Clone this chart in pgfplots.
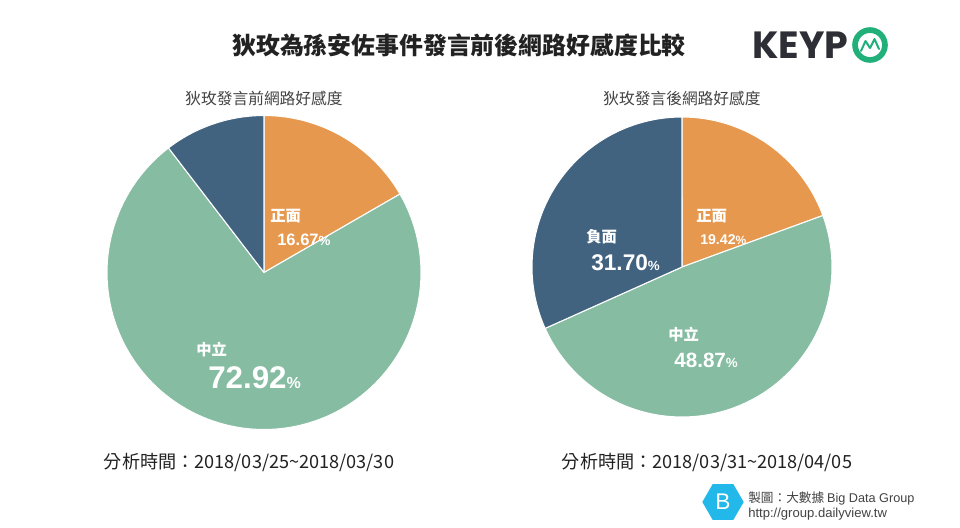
\documentclass[border=0pt]{standalone}
\usepackage{fontspec}
\setmainfont{Noto Sans CJK TC}
\newfontfamily\numf{Liberation Sans}
\newfontfamily\logof{Poppins}
\usepackage{graphicx}
\usepackage{pgfplots}
\usepackage{pgfplotstable}
\pgfplotsset{compat=1.18}
\usetikzlibrary{shapes.geometric}
\definecolor{pOrange}{HTML}{E6984E}
\definecolor{pGreen}{HTML}{86BCA2}
\definecolor{pBlue}{HTML}{41637F}
\definecolor{kGreen}{HTML}{22B07A}
\definecolor{kDark}{HTML}{2E2E36}
\definecolor{bCyan}{HTML}{22B8EA}
\definecolor{txt}{HTML}{222222}

% share of each sentiment (%), before and after
\pgfplotstableread{
cat pct
pos 16.67
neu 72.92
neg 10.41
}\beforedata
\pgfplotstableread{
cat pct
pos 19.42
neu 48.87
neg 31.70
}\afterdata

\pgfplotstablegetelem{0}{pct}\of\beforedata \let\Bp\pgfplotsretval
\pgfplotstablegetelem{1}{pct}\of\beforedata \let\Bu\pgfplotsretval
\pgfplotstablegetelem{2}{pct}\of\beforedata \let\Bn\pgfplotsretval
\pgfplotstablegetelem{0}{pct}\of\afterdata \let\Ap\pgfplotsretval
\pgfplotstablegetelem{1}{pct}\of\afterdata \let\Au\pgfplotsretval
\pgfplotstablegetelem{2}{pct}\of\afterdata \let\An\pgfplotsretval
\pgfmathsetmacro{\BaA}{90-3.6*\Bp}
\pgfmathsetmacro{\BaB}{\BaA-3.6*\Bu}
\pgfmathsetmacro{\BaC}{\BaB-3.6*\Bn}
\pgfmathsetmacro{\AaA}{90-3.6*\Ap}
\pgfmathsetmacro{\AaB}{\AaA-3.6*\Au}
\pgfmathsetmacro{\AaC}{\AaB-3.6*\An}

\newcommand{\slice}[6]{%
  \addplot[fill=#6, draw=white, line width=0.8pt, line join=round,
    domain=#4:#5, samples=120, variable=\t]
    ({#1+#3*cos(\t)},{#2-#3*sin(\t)}) -- (axis cs:#1,#2) -- cycle;}

\begin{document}%
\begin{tikzpicture}
\begin{axis}[x=0.75pt, y=0.75pt, xmin=0, xmax=960, ymin=0, ymax=528,
  y dir=reverse, hide axis, clip=false, anchor=origin, at={(0,0)}]
\path[fill=white] (axis cs:0,0) rectangle (axis cs:960,528);
% left pie
\slice{264}{272.5}{157}{\BaA}{90}{pOrange}
\slice{264}{272.5}{157}{\BaB}{\BaA}{pGreen}
\slice{264}{272.5}{157}{\BaC}{\BaB}{pBlue}
% right pie
\slice{682}{267}{150}{\AaA}{90}{pOrange}
\slice{682}{267}{150}{\AaB}{\AaA}{pGreen}
\slice{682}{267}{150}{\AaC}{\AaB}{pBlue}

% titles
\node[text=txt, font=\fontsize{17.9}{20}\selectfont\bfseries] at (axis cs:459,45) {狄玫為孫安佐事件發言前後網路好感度比較};
\node[text=txt!85, font=\fontsize{11.8}{14}\selectfont] at (axis cs:264,98) {狄玫發言前網路好感度};
\node[text=txt!85, font=\fontsize{11.8}{14}\selectfont] at (axis cs:682,98) {狄玫發言後網路好感度};
\node[text=txt, font=\fontsize{13.6}{15}\selectfont] at (axis cs:249,462) {分析時間：2018/03/25\textasciitilde 2018/03/30};
\node[text=txt, font=\fontsize{13.6}{15}\selectfont] at (axis cs:707,462) {分析時間：2018/03/31\textasciitilde 2018/04/05};

% slice labels
\node[anchor=west, text=white, font=\fontsize{11.5}{13}\selectfont\bfseries, inner sep=0] at (axis cs:270,216) {正面};
\node[anchor=west, text=white, font=\numf\fontsize{12.4}{14}\selectfont\bfseries, inner sep=0] at (axis cs:277,240) {16.67{\fontsize{10}{10}\selectfont\%}};
\node[anchor=west, text=white, font=\fontsize{11.5}{13}\selectfont\bfseries, inner sep=0] at (axis cs:196,350) {中立};
\node[anchor=west, text=white, font=\numf\fontsize{23.5}{26}\selectfont\bfseries, inner sep=0] at (axis cs:208,378) {72.92{\fontsize{12}{12}\selectfont\%}};

\node[anchor=west, text=white, font=\fontsize{11.5}{13}\selectfont\bfseries, inner sep=0] at (axis cs:696,216) {正面};
\node[anchor=west, text=white, font=\numf\fontsize{10.6}{12}\selectfont\bfseries, inner sep=0] at (axis cs:700,240) {19.42{\fontsize{9}{9}\selectfont\%}};
\node[anchor=west, text=white, font=\fontsize{11.5}{13}\selectfont\bfseries, inner sep=0] at (axis cs:586,237) {負面};
\node[anchor=west, text=white, font=\numf\fontsize{17}{19}\selectfont\bfseries, inner sep=0] at (axis cs:591,263) {31.70{\fontsize{10}{10}\selectfont\%}};
\node[anchor=west, text=white, font=\fontsize{11.5}{13}\selectfont\bfseries, inner sep=0] at (axis cs:668,335) {中立};
\node[anchor=west, text=white, font=\numf\fontsize{15.5}{17}\selectfont\bfseries, inner sep=0] at (axis cs:674,360) {48.87{\fontsize{10}{10}\selectfont\%}};

% KEYPO logo
\node[anchor=west, inner sep=0, text=kDark] at (axis cs:752,45) {\resizebox{72pt}{!}{\logof\bfseries KEYP}};
\draw[kGreen, line width=4.3pt] (axis cs:870,45) circle[radius=11.2pt];
\draw[kGreen, line width=1.5pt, line join=round, line cap=round] (axis cs:861,51) -- (axis cs:865.5,41) -- (axis cs:870,48) -- (axis cs:874.5,39) -- (axis cs:879,49);

% footer
\node[regular polygon, regular polygon sides=6, fill=bCyan, minimum size=31pt, inner sep=0] at (axis cs:723,502) {};
\node[text=white, font=\numf\fontsize{17}{17}\selectfont] at (axis cs:723,502) {B};
\node[anchor=west, text=txt!85, font=\fontsize{9.5}{11}\selectfont, inner sep=0] at (axis cs:748,498) {製圖：大數據 {\numf Big Data Group}};
\node[anchor=west, text=txt!85, font=\numf\fontsize{9.8}{11}\selectfont, inner sep=0] at (axis cs:748,514) {http://group.dailyview.tw};
\end{axis}
\pgfresetboundingbox
\path (0,0) rectangle (720pt,-396pt);
\end{tikzpicture}%
\end{document}
